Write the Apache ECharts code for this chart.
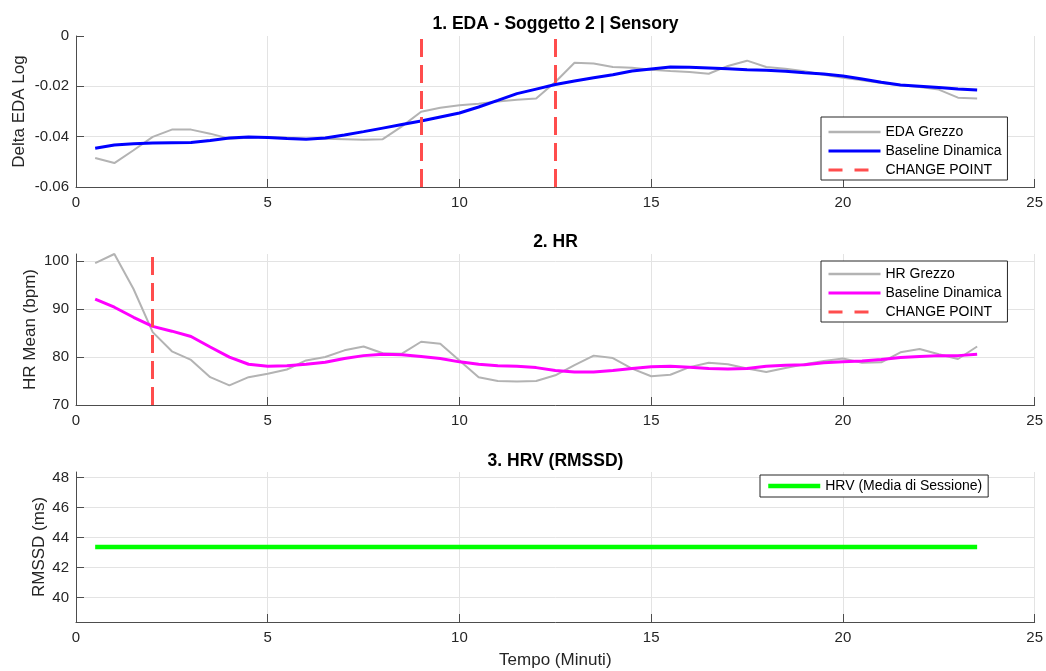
<!DOCTYPE html>
<html><head><meta charset="utf-8">
<script src="https://cdn.jsdelivr.net/npm/echarts@6/dist/echarts.min.js"></script>
<style>html,body{margin:0;padding:0;background:#fff}#c{width:1046px;height:671px}</style>
</head><body><div id="c"></div>
<script>
// ---- data ----
const times = [0.5,1,1.5,2,2.5,3,3.5,4,4.5,5,5.5,6,6.5,7,7.5,8,8.5,9,9.5,10,10.5,11,11.5,12,12.5,13,13.5,14,14.5,15,15.5,16,16.5,17,17.5,18,18.5,19,19.5,20,20.5,21,21.5,22,22.5,23,23.5];
const edaRaw = [-0.0485,-0.0505,-0.0454,-0.0401,-0.0372,-0.0372,-0.0388,-0.0408,-0.0404,-0.0401,-0.0404,-0.0408,-0.0408,-0.0410,-0.0412,-0.0410,-0.0359,-0.0301,-0.0285,-0.0275,-0.0269,-0.0260,-0.0253,-0.0248,-0.0183,-0.0106,-0.0109,-0.0123,-0.0126,-0.0134,-0.0139,-0.0143,-0.0150,-0.0119,-0.0098,-0.0123,-0.0130,-0.0140,-0.0154,-0.0166,-0.0176,-0.0187,-0.0196,-0.0203,-0.0213,-0.0245,-0.0248];
const edaBaseline = [-0.0446,-0.0433,-0.0428,-0.0425,-0.0424,-0.0423,-0.0415,-0.0405,-0.0401,-0.0403,-0.0407,-0.0410,-0.0405,-0.0393,-0.0380,-0.0366,-0.0352,-0.0338,-0.0322,-0.0306,-0.0282,-0.0256,-0.0229,-0.0211,-0.0193,-0.0179,-0.0166,-0.0154,-0.0139,-0.0131,-0.0123,-0.0124,-0.0127,-0.0130,-0.0134,-0.0136,-0.0140,-0.0146,-0.0151,-0.0159,-0.0171,-0.0184,-0.0195,-0.0200,-0.0205,-0.0211,-0.0215];
const edaChangePoints = [9, 12.5];
const hrRaw = [99.6,101.5,94.2,85.2,81.2,79.4,75.8,74.1,75.8,76.5,77.4,79.3,80.0,81.4,82.2,80.8,80.7,83.2,82.8,79.3,75.8,75.0,74.9,75.0,76.2,78.3,80.3,79.8,77.6,76.0,76.3,77.9,78.8,78.5,77.6,76.9,77.7,78.5,79.2,79.7,78.8,78.9,81.0,81.7,80.6,79.6,82.2];
const hrBaseline = [92.1,90.4,88.3,86.4,85.4,84.3,82.1,80.0,78.5,78.1,78.2,78.5,78.9,79.7,80.3,80.6,80.5,80.1,79.7,79.0,78.5,78.2,78.1,77.8,77.2,76.9,76.9,77.2,77.6,78.0,78.1,77.9,77.6,77.5,77.6,78.1,78.3,78.4,78.8,79.0,79.2,79.5,79.9,80.1,80.3,80.3,80.6];
const hrChangePoints = [2];
const hrvMean = 43.37;
const panelTitles = ['1. EDA - Soggetto 2 | Sensory', '2. HR', '3. HRV (RMSSD)'];
const yNames = ['Delta EDA Log', 'HR Mean (bpm)', 'RMSSD (ms)'];
const xName = 'Tempo (Minuti)';

// ---- styling ----
const FONT = 'Liberation Sans, Arial, Helvetica, sans-serif';
const AX = '#4d4d4d', TXT = '#262626', GRID = '#e3e3e3';
const RED = '#ff4d4d', GRAY = '#b3b3b3', BLUE = '#0000ff', MAG = '#ff00ff', GREEN = '#00ff00';
const TICK_FS = 15, NAME_FS = 17;
const L = 76, R = 11;
const grids = [
  {left: L, right: R, top: 36, height: 151},
  {left: L, right: R, top: 254, height: 151},
  {left: L, right: R, top: 472, height: 150}
];
function xAx(i, extra) {
  return Object.assign({
    type: 'value', gridIndex: i, min: 0, max: 25, interval: 5,
    axisLine: {show: true, onZero: false, lineStyle: {color: AX, width: 1}},
    axisTick: {show: true, inside: true, length: 8, lineStyle: {color: AX}},
    axisLabel: {margin: 8, color: TXT, fontSize: TICK_FS, fontFamily: FONT},
    splitLine: {show: true, lineStyle: {color: GRID, width: 1}}
  }, extra || {});
}
function yLabel(extra) {
  return Object.assign({margin: 7, color: TXT, fontSize: TICK_FS, fontFamily: FONT,
    formatter: v => String(+v.toFixed(4))}, extra || {});
}
function yAx(i, extra) {
  return Object.assign({
    type: 'value', gridIndex: i,
    name: yNames[i], nameLocation: 'middle', nameRotate: 90, nameMoveOverlap: false,
    nameTextStyle: {fontSize: NAME_FS, color: TXT, fontFamily: FONT},
    axisLine: {show: true, onZero: false, lineStyle: {color: AX, width: 1}},
    axisTick: {show: true, inside: true, length: 8, lineStyle: {color: AX}},
    axisLabel: yLabel(),
    splitLine: {show: true, showMaxLine: false, showMinLine: false, lineStyle: {color: GRID, width: 1}}
  }, extra || {});
}
function pairs(ys) { return times.map((t, i) => [t, ys[i]]); }
function cpSeries(i, pts) {
  return {
    type: 'line', name: 'CHANGE POINT', xAxisIndex: i, yAxisIndex: i, data: [],
    symbol: 'none', itemStyle: {color: RED},
    lineStyle: {color: RED, width: 3, type: [18, 8]},
    markLine: {silent: true, symbol: ['none', 'none'], label: {show: false},
      lineStyle: {color: RED, width: 3, type: [18, 8]},
      emphasis: {disabled: true},
      data: pts.map(v => ({xAxis: v}))},
    z: 5
  };
}
const hiddenSymbol = {opacity: 0, color: 'rgba(0,0,0,0)', borderWidth: 0, borderColor: 'rgba(0,0,0,0)'};
function legendBox(left, top, data, padding) {
  return {
    left: left, top: top, orient: 'vertical', padding: padding, itemGap: 5,
    itemWidth: 52, itemHeight: 14, borderColor: '#262626', borderWidth: 1,
    backgroundColor: '#ffffff', borderRadius: 0,
    itemStyle: hiddenSymbol,
    textStyle: {fontSize: 14, color: '#000', fontFamily: FONT},
    selectedMode: false, data: data
  };
}
const legendDash = {color: RED, width: 3, type: [14, 12]};
const titleStyle = {fontSize: 17.5, fontWeight: 'bold', color: '#000', fontFamily: FONT};
const option = {
  animation: false,
  backgroundColor: '#ffffff',
  title: [
    {text: panelTitles[0], left: 555.5, top: 15, textAlign: 'center', padding: 0, textStyle: titleStyle},
    {text: panelTitles[1], left: 555.5, top: 233, textAlign: 'center', padding: 0, textStyle: titleStyle},
    {text: panelTitles[2], left: 555.5, top: 452, textAlign: 'center', padding: 0, textStyle: titleStyle}
  ],
  grid: grids,
  xAxis: [xAx(0), xAx(1), xAx(2, {name: xName, nameLocation: 'middle', nameGap: 30, nameMoveOverlap: false,
    nameTextStyle: {fontSize: NAME_FS, color: TXT, fontFamily: FONT}})],
  yAxis: [
    yAx(0, {min: -0.06, max: 0, interval: 0.02, nameGap: 48}),
    yAx(1, {min: 70, max: 101.5, interval: 10, nameGap: 37, axisLabel: yLabel({showMaxLabel: false})}),
    yAx(2, {min: hrvMean - 5, max: hrvMean + 5, nameGap: 28, axisLabel: yLabel({showMaxLabel: false, showMinLabel: false})})
  ],
  legend: [
    legendBox(821, 117, [
      {name: 'EDA Grezzo', lineStyle: {color: GRAY, width: 2.5}},
      {name: 'Baseline Dinamica', lineStyle: {color: BLUE, width: 3}},
      {name: 'CHANGE POINT', lineStyle: legendDash}], [8, 6, 3, 6]),
    legendBox(821, 261, [
      {name: 'HR Grezzo', lineStyle: {color: GRAY, width: 2.5}},
      {name: 'Baseline Dinamica', lineStyle: {color: MAG, width: 3}},
      {name: 'CHANGE POINT', lineStyle: legendDash}], [6, 6, 3, 6]),
    legendBox(760, 475, [{name: 'HRV (Media di Sessione)', lineStyle: {color: GREEN, width: 4.5}}], [4, 6, 4, 6])
  ],
  series: [
    {type: 'line', name: 'EDA Grezzo', xAxisIndex: 0, yAxisIndex: 0, data: pairs(edaRaw), symbol: 'none',
      lineStyle: {color: GRAY, width: 2}, itemStyle: {color: GRAY}, z: 2},
    {type: 'line', name: 'Baseline Dinamica', xAxisIndex: 0, yAxisIndex: 0, data: pairs(edaBaseline), symbol: 'none',
      lineStyle: {color: BLUE, width: 3}, itemStyle: {color: BLUE}, z: 3},
    cpSeries(0, edaChangePoints),
    {type: 'line', name: 'HR Grezzo', xAxisIndex: 1, yAxisIndex: 1, data: pairs(hrRaw), symbol: 'none',
      lineStyle: {color: GRAY, width: 2}, itemStyle: {color: GRAY}, z: 2},
    {type: 'line', name: 'Baseline Dinamica', xAxisIndex: 1, yAxisIndex: 1, data: pairs(hrBaseline), symbol: 'none',
      lineStyle: {color: MAG, width: 3}, itemStyle: {color: MAG}, z: 3},
    cpSeries(1, hrChangePoints),
    {type: 'line', name: 'HRV (Media di Sessione)', xAxisIndex: 2, yAxisIndex: 2,
      data: times.map(t => [t, hrvMean]), symbol: 'none',
      lineStyle: {color: GREEN, width: 4.5}, itemStyle: {color: GREEN}, z: 3}
  ]
};
const chart = echarts.init(document.getElementById('c'), null, {renderer: 'canvas'});
chart.setOption(option);
</script></body></html>
